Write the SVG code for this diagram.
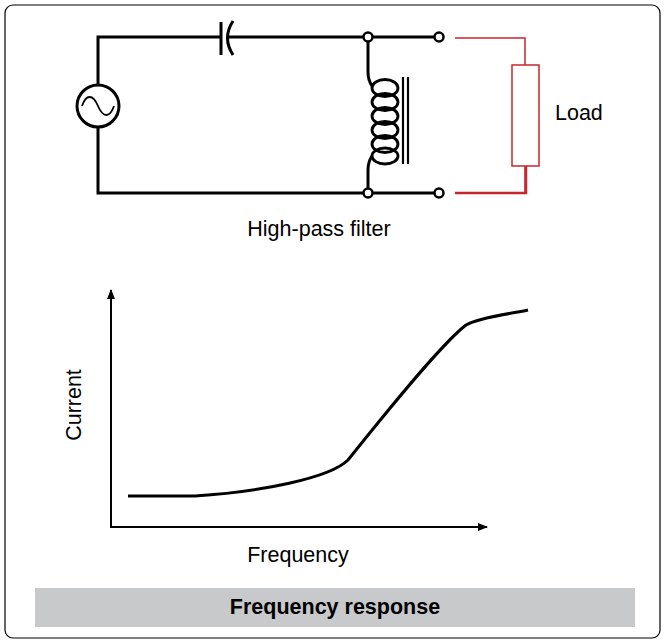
<svg xmlns="http://www.w3.org/2000/svg" width="666" height="644" viewBox="0 0 666 644">
<style>
.w{fill:none;stroke:#000;stroke-width:3}
.r{fill:none;stroke:#c8262e;stroke-width:1.5}
.t{font-family:"Liberation Sans",Arial,sans-serif;font-size:21.5px;fill:#000}
.term{fill:#fff;stroke:#000;stroke-width:2.5}
.coil{fill:none;stroke:#000;stroke-width:2.8}
</style>
<defs><marker id="a" markerWidth="10" markerHeight="10" refX="9" refY="5" orient="auto" markerUnits="userSpaceOnUse"><path d="M0,1 L10,5 L0,9 Z" fill="#000"/></marker></defs>
<rect x="5" y="5" width="655" height="633" rx="8" fill="#fff" stroke="#000" stroke-width="1.2"/>
<g id="connectors">
<path class="w" d="M98,85 V37 H221 M228,37 H439 M98,127 V193 H439"/>
<path class="w" d="M368,37 V72 Q368,80 372,86 M372,156 Q368,162 368,170 V193"/>
<path class="r" d="M455,38 H525 V65 M525,166 V193"/>
<path d="M455,193 H526 V166" fill="none" stroke="#c8262e" stroke-width="2.5"/>
</g>
<g id="source"><circle cx="98" cy="106" r="21" fill="#fff" stroke="#000" stroke-width="3"/>
<path d="M82,106 C86,94 93,94 98,106 C103,118 110,118 114,106" fill="none" stroke="#000" stroke-width="1.8"/></g>
<g id="capacitor"><path class="w" d="M221,22 V55"/><path class="w" d="M233,21 Q222,38 233,55"/></g>
<g id="inductor">
<ellipse class="coil" cx="385" cy="88" rx="13" ry="8.5"/>
<ellipse class="coil" cx="385" cy="102" rx="13" ry="8.5"/>
<ellipse class="coil" cx="385" cy="116" rx="13" ry="8.5"/>
<ellipse class="coil" cx="385" cy="130" rx="13" ry="8.5"/>
<ellipse class="coil" cx="385" cy="144" rx="13" ry="8.5"/>
<ellipse class="coil" cx="385" cy="156" rx="13" ry="8"/>
<path class="w" d="M403,77 V164 M408,77 V164" style="stroke-width:2.2"/>
</g>
<g id="terminals"><circle class="term" cx="368" cy="37" r="4.5"/><circle class="term" cx="439" cy="37" r="4.5"/><circle class="term" cx="368" cy="193" r="4.5"/><circle class="term" cx="439" cy="193" r="4.5"/></g>
<g id="load"><rect class="r" x="512" y="65" width="27" height="101" fill="#fff"/><text class="t" x="555" y="120">Load</text></g>
<text class="t" x="319" y="236" text-anchor="middle">High-pass filter</text>
<g id="graph">
<path class="w" d="M111,527 V290" style="stroke-width:2" marker-end="url(#a)"/>
<path class="w" d="M110,527 H487" style="stroke-width:2" marker-end="url(#a)"/>
<path class="w" d="M128,496 H195 C260,492 330,478 348,460 C380,420 440,345 466,325 C480,317 510,314 528,310"/>
<text class="t" transform="translate(81,405) rotate(-90)" text-anchor="middle">Current</text>
<text class="t" x="298" y="562" text-anchor="middle">Frequency</text>
</g>
<g id="title"><rect x="35" y="588" width="600" height="39" fill="#c8c9cb"/>
<text class="t" x="335" y="614" text-anchor="middle" font-weight="bold">Frequency response</text></g>
</svg>
